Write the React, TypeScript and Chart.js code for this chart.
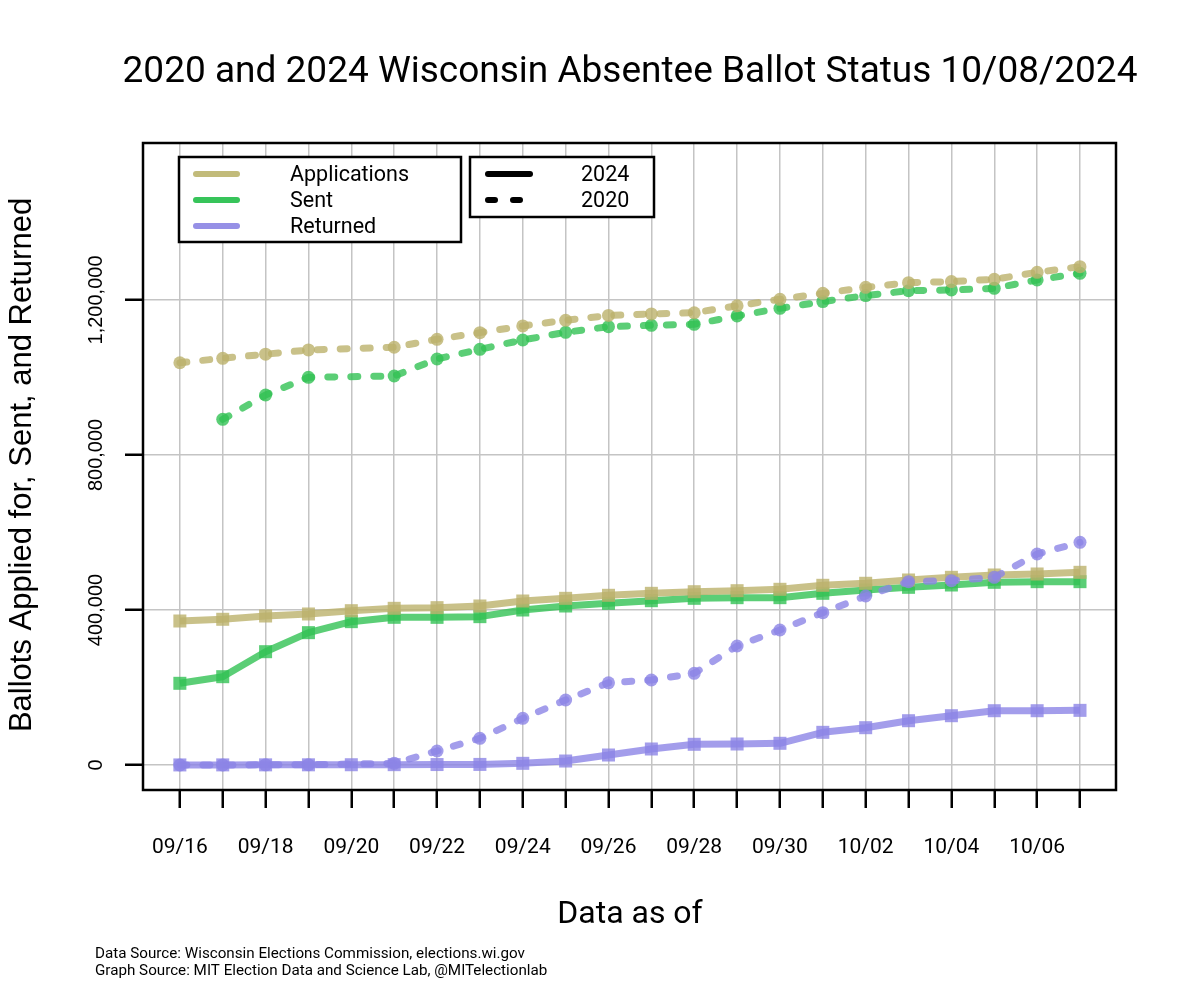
import React, { useEffect, useRef } from "react";
import { Chart, registerables } from "chart.js";

Chart.register(...registerables);

const DATES = ["09/16","09/17","09/18","09/19","09/20","09/21","09/22","09/23","09/24","09/25","09/26","09/27","09/28","09/29","09/30","10/01","10/02","10/03","10/04","10/05","10/06","10/07"];

const APPS_2024 = [371600,376000,384500,389700,398200,404300,406000,410300,423200,430100,437900,443000,447200,449800,453400,463700,468900,477400,484300,490300,492900,497200];
const SENT_2024 = [210800,227900,292400,341500,369900,381100,381000,382800,400000,410300,417200,424000,430100,431800,431800,443000,451600,458500,464500,471400,473100,473100];
const RET_2024 = [200,300,400,500,700,900,1200,1500,4300,10300,25800,41300,53400,54200,56000,84300,96300,114300,127200,140100,140100,141000];

const APPS_2020 = [1038000,1049500,1060000,1071000,null,1078000,1098500,1115600,1133000,1147500,1160000,1164000,1167000,1185000,1201700,1217000,1232600,1244700,1247300,1253300,1271400,1286000];
const SENT_2020 = [null,892000,954800,1000400,null,1003800,1047700,1072700,1096700,1116500,1131000,1134600,1137200,1158700,1178400,1195700,1211200,1224000,1225800,1230000,1251600,1268800];
const RET_2020 = [0,200,400,700,null,4300,36100,68800,120400,167700,212000,219300,236600,307100,348400,393100,436100,473100,475700,484300,544500,574600];

const Y_TICKS = [0, 400000, 800000, 1200000];
const Y_TICK_LABELS = ["0", "400,000", "800,000", "1,200,000"];

const TAN = "rgba(188,178,108,0.8)";
const GREEN = "rgba(50,194,84,0.8)";
const PURPLE = "rgba(140,132,230,0.8)";
const TAN_L = "rgb(194,187,122)";
const GREEN_L = "rgb(55,196,90)";
const PURPLE_L = "rgb(150,144,230)";

const SANS = "Roboto, 'Noto Sans', sans-serif";
const ARIAL = "'Liberation Sans', Arial, sans-serif";

function toXY(arr: (number | null)[]) {
  return arr.map((v, i) => ({ x: i, y: v }));
}

function ds(label: string, data: (number | null)[], color: string, dashed: boolean) {
  return {
    label,
    data: toXY(data),
    borderColor: color,
    backgroundColor: color,
    pointBackgroundColor: color,
    pointBorderWidth: 0,
    pointStyle: dashed ? "circle" : "rect",
    pointRadius: dashed ? 6.5 : 9.2,
    borderWidth: 7,
    borderDash: dashed ? [7, 16] : [],
    borderCapStyle: dashed ? "round" : "butt",
    borderJoinStyle: "round",
    spanGaps: true,
    tension: 0,
  } as any;
}

const overlay = {
  id: "overlay",
  afterDraw(chart: any) {
    const ctx = chart.ctx as CanvasRenderingContext2D;
    const { left, right, top, bottom } = chart.chartArea;
    const yS = chart.scales.y;
    ctx.save();
    // box
    ctx.strokeStyle = "#000";
    ctx.lineWidth = 2.5;
    ctx.strokeRect(left, top, right - left, bottom - top);

    // title
    ctx.fillStyle = "#000";
    ctx.textAlign = "center";
    ctx.textBaseline = "middle";
    ctx.font = `37px ${SANS}`;
    ctx.fillText("2020 and 2024 Wisconsin Absentee Ballot Status 10/08/2024", 630, 73);

    // x axis title
    ctx.font = `32px ${SANS}`;
    ctx.fillText("Data as of", 630, 915);

    // y tick labels (rotated)
    ctx.font = `20px ${ARIAL}`;
    Y_TICKS.forEach((v, i) => {
      const y = yS.getPixelForValue(v);
      ctx.save();
      ctx.translate(96, y);
      ctx.rotate(-Math.PI / 2);
      ctx.fillText(Y_TICK_LABELS[i], 0, 0);
      ctx.restore();
    });

    // y axis title
    ctx.save();
    ctx.translate(22, 465);
    ctx.rotate(-Math.PI / 2);
    ctx.font = `31px ${ARIAL}`;
    ctx.fillText("Ballots Applied for, Sent, and Returned", 0, 0);
    ctx.restore();

    // footer
    ctx.textAlign = "left";
    ctx.font = `15.2px ${SANS}`;
    ctx.fillText("Data Source: Wisconsin Elections Commission, elections.wi.gov", 95, 954);
    ctx.fillText("Graph Source: MIT Election Data and Science Lab, @MITelectionlab", 95, 971);

    // legend 1
    ctx.fillStyle = "#fff";
    ctx.fillRect(179, 157, 282, 85);
    ctx.strokeStyle = "#000";
    ctx.lineWidth = 2.5;
    ctx.strokeRect(179, 157, 282, 85);
    const items: [string, string, number][] = [
      ["Applications", TAN_L, 174],
      ["Sent", GREEN_L, 200],
      ["Returned", PURPLE_L, 226],
    ];
    ctx.lineCap = "round";
    ctx.font = `21.5px ${SANS}`;
    items.forEach(([t, c, y]) => {
      ctx.strokeStyle = c;
      ctx.lineWidth = 6;
      ctx.beginPath();
      ctx.moveTo(196, y);
      ctx.lineTo(237, y);
      ctx.stroke();
      ctx.fillStyle = "#000";
      ctx.fillText(t, 290, y + 2);
    });

    // legend 2
    ctx.fillStyle = "#fff";
    ctx.fillRect(470, 157, 184, 60);
    ctx.strokeStyle = "#000";
    ctx.lineWidth = 2.5;
    ctx.lineCap = "butt";
    ctx.strokeRect(470, 157, 184, 60);
    ctx.lineCap = "round";
    ctx.lineWidth = 6;
    ctx.beginPath();
    ctx.moveTo(488, 174);
    ctx.lineTo(530, 174);
    ctx.stroke();
    ctx.beginPath();
    ctx.moveTo(488, 200);
    ctx.lineTo(495, 200);
    ctx.moveTo(513, 200);
    ctx.lineTo(520, 200);
    ctx.stroke();
    ctx.fillStyle = "#000";
    ctx.fillText("2024", 581, 176);
    ctx.fillText("2020", 581, 202);
    ctx.restore();
  },
};

export default function App() {
  const ref = useRef<HTMLCanvasElement | null>(null);
  useEffect(() => {
    if (!ref.current) return;
    const chart = new Chart(ref.current, {
      type: "line",
      data: {
        datasets: [
          ds("Applications 2020", APPS_2020, TAN, true),
          ds("Sent 2020", SENT_2020, GREEN, true),
          ds("Returned 2020", RET_2020, PURPLE, true),
          ds("Applications 2024", APPS_2024, TAN, false),
          ds("Sent 2024", SENT_2024, GREEN, false),
          ds("Returned 2024", RET_2024, PURPLE, false),
        ],
      },
      options: {
        animation: false,
        responsive: false,
        maintainAspectRatio: false,
        layout: { padding: { left: 83, right: 74, top: 143, bottom: 110 } },
        plugins: { legend: { display: false }, tooltip: { enabled: false }, title: { display: false } },
        scales: {
          x: {
            type: "linear",
            min: -0.86,
            max: 21.84,
            afterBuildTicks: (s: any) => {
              s.ticks = DATES.map((_, i) => ({ value: i }));
            },
            afterFit: (s: any) => {
              s.height = 100;
            },
            ticks: {
              autoSkip: false,
              maxRotation: 0,
              minRotation: 0,
              padding: 27,
              color: "#000",
              font: { family: SANS, size: 21 },
              callback: (v: any) => (Number(v) % 2 === 0 ? DATES[Number(v)] : ""),
            },
            grid: {
              color: "#c4c4c4",
              lineWidth: 1.5,
              drawTicks: true,
              tickLength: 18,
              tickColor: "#000",
              tickWidth: 2.5,
            },
            border: { display: false },
          },
          y: {
            type: "linear",
            min: -64500,
            max: 1605000,
            afterBuildTicks: (s: any) => {
              s.ticks = Y_TICKS.map((v) => ({ value: v }));
            },
            afterFit: (s: any) => {
              s.width = 60;
            },
            ticks: { display: false },
            grid: {
              color: "#c4c4c4",
              lineWidth: 1.5,
              drawTicks: true,
              tickLength: 18,
              tickColor: "#000",
              tickWidth: 2.5,
            },
            border: { display: false },
          },
        },
      } as any,
      plugins: [overlay],
    });
    return () => chart.destroy();
  }, []);
  return (
    <div style={{ position: "absolute", left: 0, top: 0, width: 1190, height: 1000, background: "#fff" }}>
      <canvas ref={ref} width={1190} height={1000} style={{ width: 1190, height: 1000 }} />
    </div>
  );
}
